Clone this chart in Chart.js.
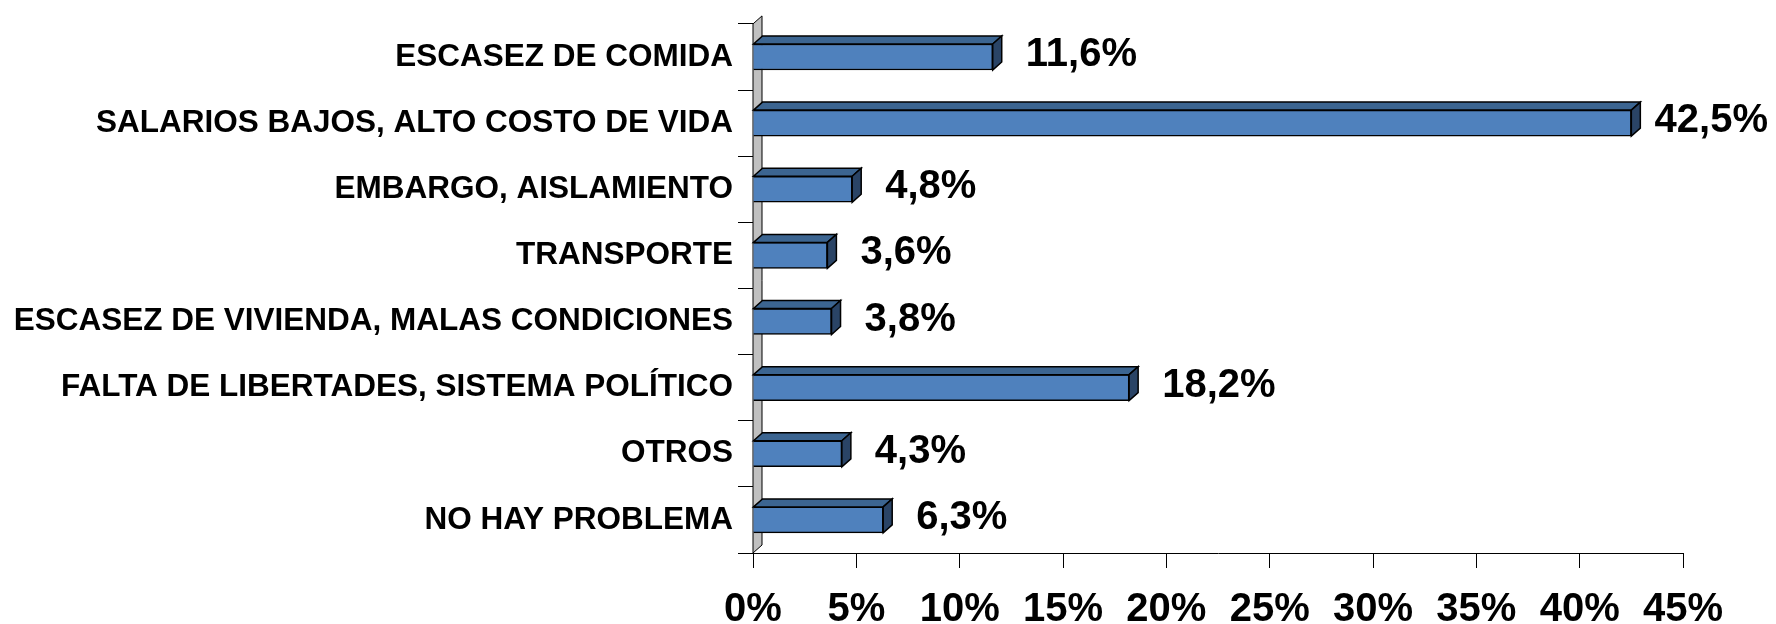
<!DOCTYPE html>
<html>
<head>
<meta charset="utf-8">
<script src="https://cdn.jsdelivr.net/npm/chart.js@4/dist/chart.umd.min.js"></script>
<style>
  html, body { margin: 0; padding: 0; background: #fff; }
  #wrap { width: 1776px; height: 624px; position: relative; }
</style>
</head>
<body>
<div id="wrap"><canvas id="chart"></canvas></div>
<script>
const categories = [
  "ESCASEZ DE COMIDA",
  "SALARIOS BAJOS, ALTO COSTO DE VIDA",
  "EMBARGO, AISLAMIENTO",
  "TRANSPORTE",
  "ESCASEZ DE VIVIENDA, MALAS CONDICIONES",
  "FALTA DE LIBERTADES, SISTEMA POLÍTICO",
  "OTROS",
  "NO HAY PROBLEMA"
];
const values = [11.6, 42.5, 4.8, 3.6, 3.8, 18.2, 4.3, 6.3];
const valueLabels = ["11,6%", "42,5%", "4,8%", "3,6%", "3,8%", "18,2%", "4,3%", "6,3%"];
const xTicks = [0, 5, 10, 15, 20, 25, 30, 35, 40, 45];

const FONT = "'Liberation Sans', Arial, Helvetica, sans-serif";
const DX = 9, DY = -8;

// back wall strip + 3D faces of the bars + value labels
const bars3d = {
  id: "bars3d",
  beforeDatasetsDraw(chart) {
    const { ctx, chartArea: a } = chart;
    ctx.save();
    ctx.beginPath();
    ctx.moveTo(a.left, a.bottom);
    ctx.lineTo(a.left, a.top);
    ctx.lineTo(a.left + DX, a.top + DY);
    ctx.lineTo(a.left + DX, a.bottom + DY);
    ctx.closePath();
    ctx.fillStyle = "#c0c0c0";
    ctx.fill();
    ctx.lineWidth = 1;
    ctx.strokeStyle = "#000";
    ctx.stroke();
    ctx.restore();
  },
  afterDatasetsDraw(chart) {
    const { ctx } = chart;
    const meta = chart.getDatasetMeta(0);
    ctx.save();
    ctx.lineWidth = 1.5;
    ctx.strokeStyle = "#000";
    ctx.lineJoin = "miter";
    meta.data.forEach((bar, i) => {
      const p = bar.getProps(["x", "y", "base", "height"], true);
      const l = p.base, r = p.x, t = p.y - p.height / 2, b = p.y + p.height / 2;
      // top face
      ctx.beginPath();
      ctx.moveTo(l, t);
      ctx.lineTo(l + DX, t + DY);
      ctx.lineTo(r + DX, t + DY);
      ctx.lineTo(r, t);
      ctx.closePath();
      ctx.fillStyle = "#3c6591";
      ctx.fill();
      ctx.stroke();
      // side face
      ctx.beginPath();
      ctx.moveTo(r, t);
      ctx.lineTo(r + DX, t + DY);
      ctx.lineTo(r + DX, b + DY);
      ctx.lineTo(r, b);
      ctx.closePath();
      ctx.fillStyle = "#2a4466";
      ctx.fill();
      ctx.stroke();

      // value label
      ctx.font = "bold 40px " + FONT;
      ctx.fillStyle = "#000";
      ctx.textBaseline = "middle";
      ctx.textAlign = "left";
      const w = ctx.measureText(valueLabels[i]).width;
      const lx = Math.min(r + DX + 24, chart.width - w - 8);
      ctx.fillText(valueLabels[i], lx, p.y - 2);
    });
    ctx.restore();
  }
};

new Chart(document.getElementById("chart"), {
  type: "bar",
  data: {
    labels: categories,
    datasets: [{
      data: values,
      backgroundColor: "#4f81bd",
      borderColor: "#000",
      borderWidth: 1.5,
      barThickness: 26
    }]
  },
  options: {
    indexAxis: "y",
    responsive: true,
    maintainAspectRatio: false,
    animation: false,
    layout: { padding: { top: 21, right: 93, bottom: 0, left: 0 } },
    plugins: {
      legend: { display: false },
      tooltip: { enabled: false }
    },
    scales: {
      x: {
        min: 0,
        max: 45,
        afterBuildTicks: (s) => { s.ticks = xTicks.map(v => ({ value: v })); },
        afterFit: (s) => { s.height = 71; },
        ticks: {
          callback: (v) => v + "%",
          color: "#000",
          padding: 18,
          maxRotation: 0,
          font: { family: FONT, size: 40, weight: "bold" }
        },
        grid: { drawOnChartArea: false, tickLength: 15, color: "#000", lineWidth: 1 },
        border: { color: "#000", width: 1 }
      },
      y: {
        afterFit: (s) => { s.width = 753; },
        ticks: {
          color: "#000",
          padding: 5,
          font: { family: FONT, size: 31.5, weight: "bold" }
        },
        grid: { drawOnChartArea: false, offset: true, tickLength: 15, color: "#000", lineWidth: 1 },
        border: { display: false }
      }
    }
  },
  plugins: [bars3d]
});
</script>
</body>
</html>
